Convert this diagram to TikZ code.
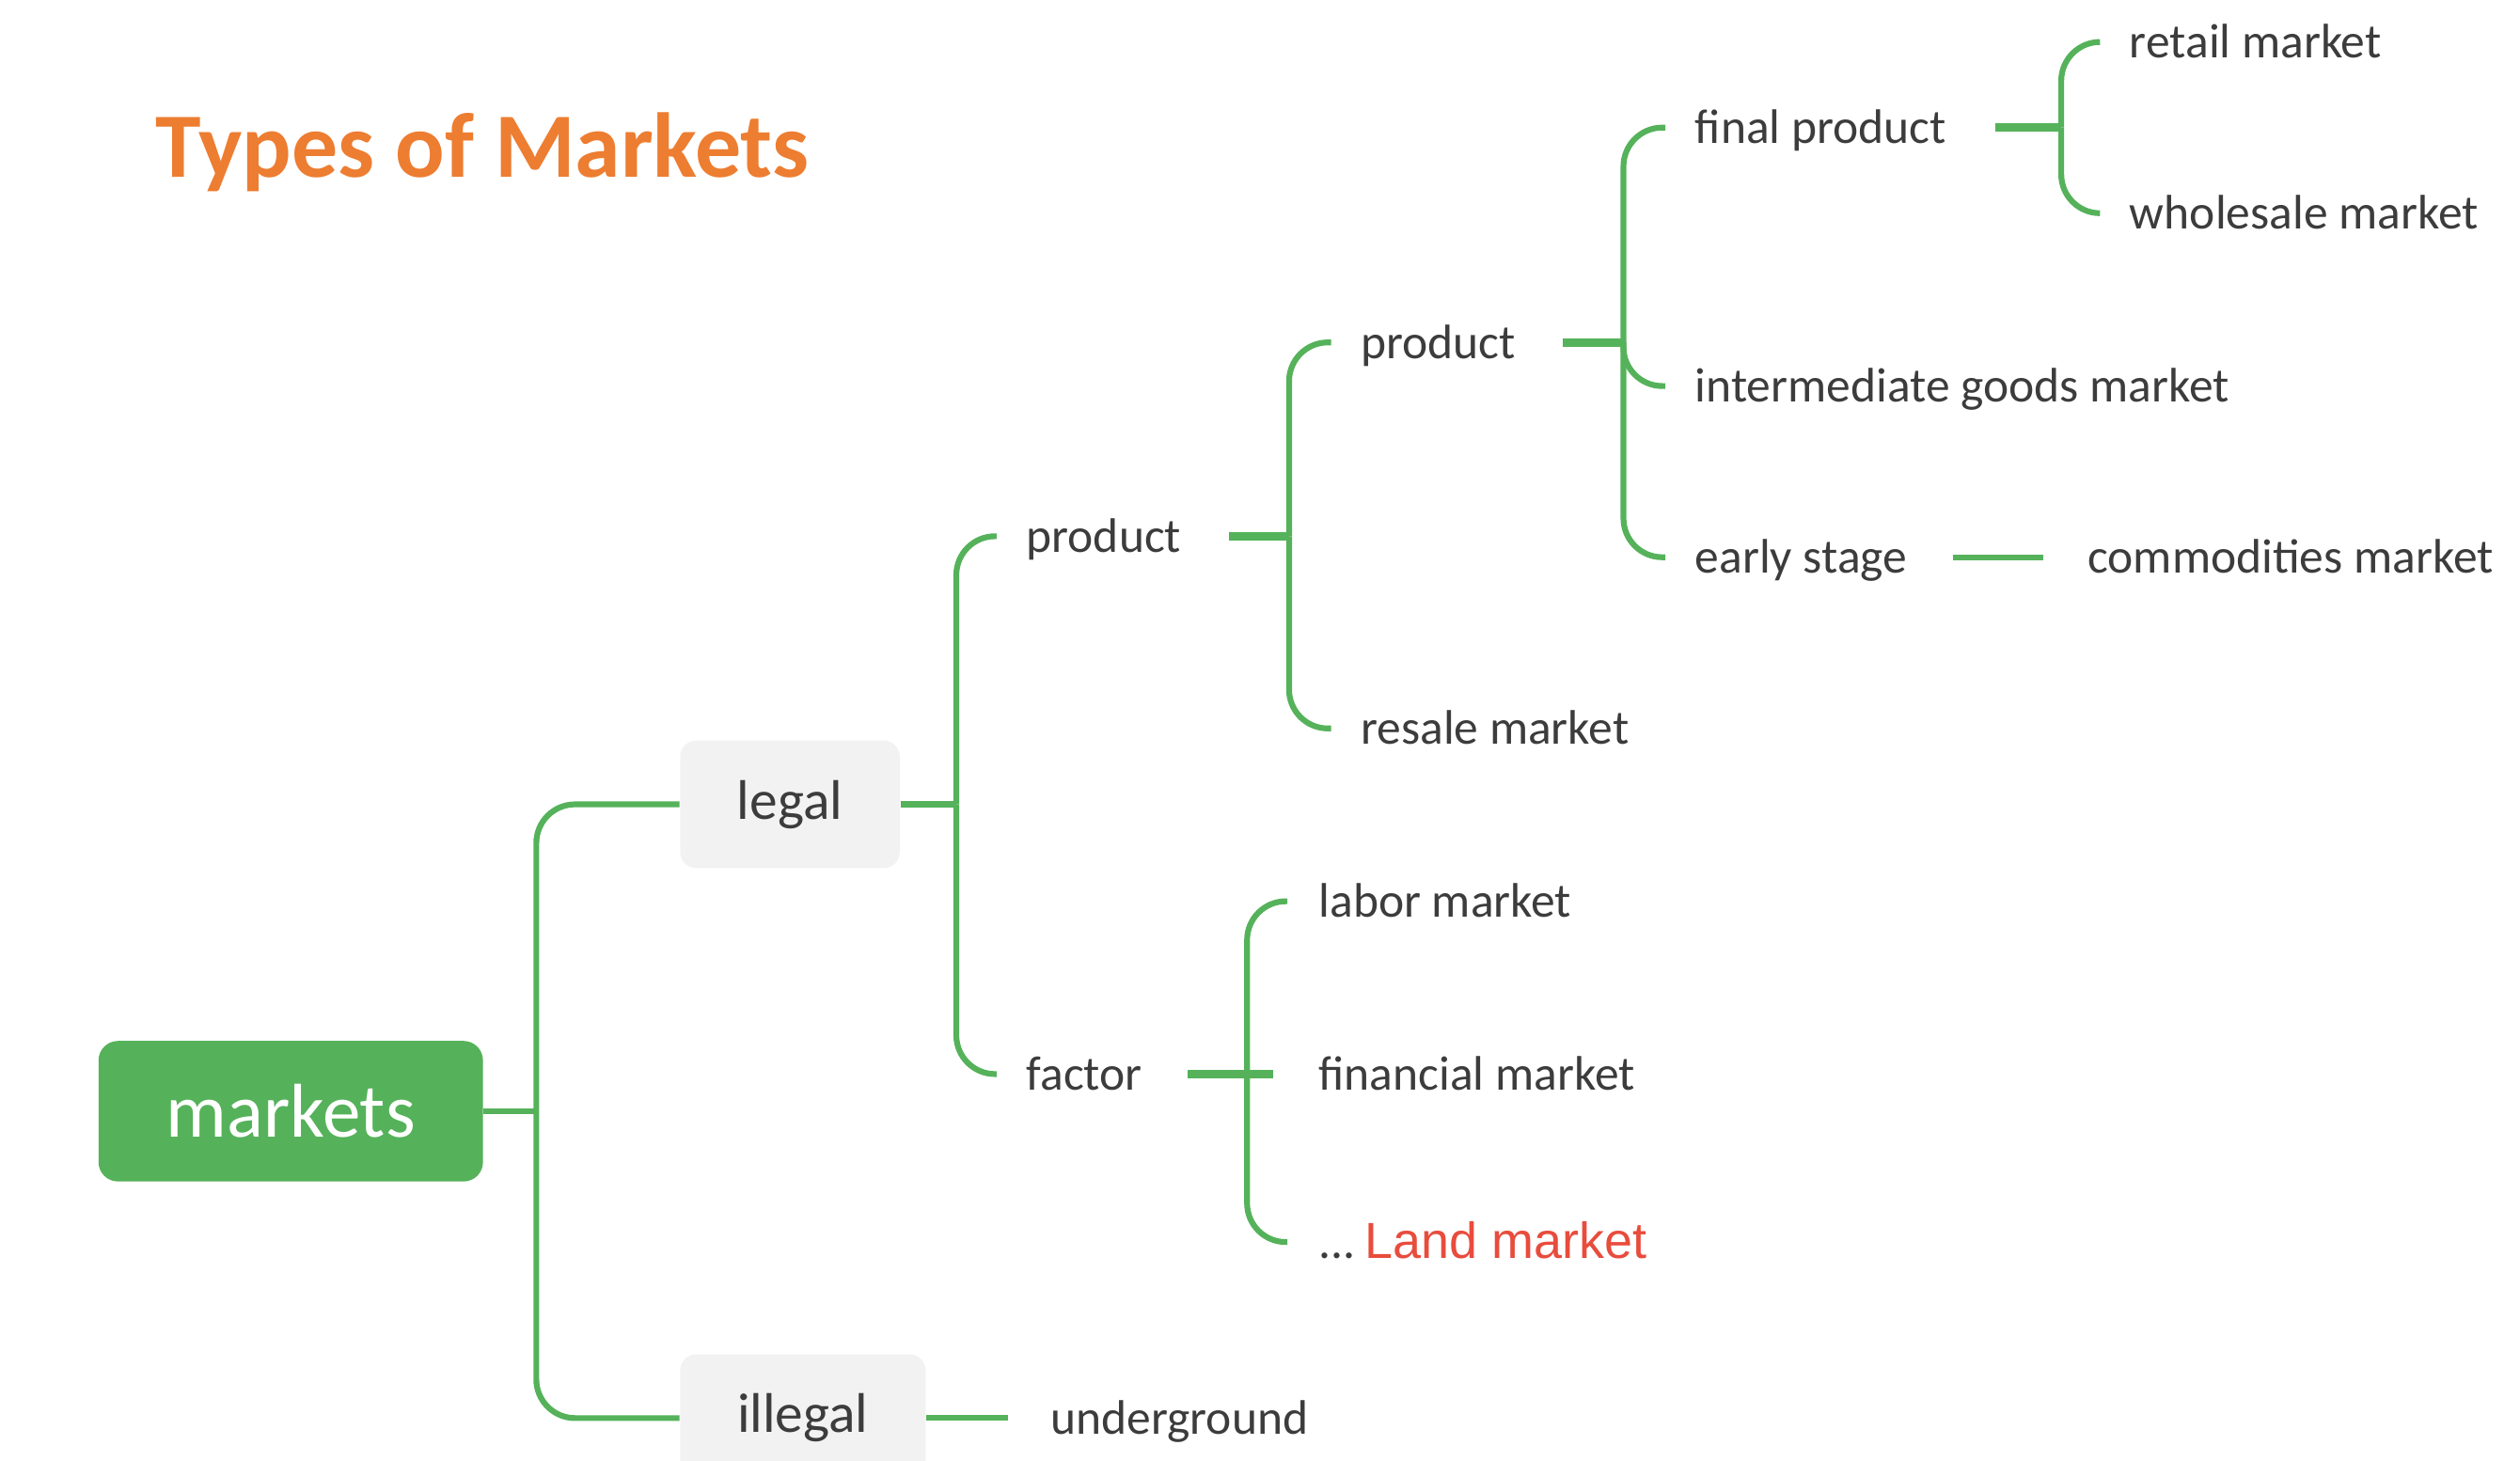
\documentclass[tikz,border=0pt]{standalone}
\usepackage{fontspec}
\setmainfont{Carlito}
\newfontfamily\arialfont{Liberation Sans}

\definecolor{mgreen}{RGB}{85,178,90}
\definecolor{mtext}{RGB}{60,60,60}
\definecolor{mbox}{RGB}{242,242,242}
\definecolor{morange}{RGB}{237,125,49}
\definecolor{mred}{RGB}{232,76,61}

\tikzset{
  lnk/.style={draw=mgreen, line width=1.8pt, rounded corners=12pt},
  stub/.style={draw=mgreen, line width=2.6pt},
  leaf/.style={anchor=west, inner xsep=0pt, inner ysep=0pt, text height=10pt, text depth=0pt,
    text=mtext, font=\fontsize{15}{18}\selectfont},
  gbox/.style={fill=mbox, rounded corners=5pt, inner sep=0pt, minimum height=39.5pt,
    text=mtext, font=\fontsize{17.3}{20}\selectfont},
}

\begin{document}
\begin{tikzpicture}[x=0.5pt, y=-0.5pt]
\useasboundingbox (0,0) rectangle (1560,904.5);
\clip (0,0) rectangle (1560,904.5);

\node[anchor=base west, inner sep=0pt, text=morange, font=\bfseries\fontsize{28.5}{34}\selectfont] (title) at (96,110) {Types of Markets};

% boxes
\node[fill=mgreen, rounded corners=6pt, inner sep=0pt, minimum width=119pt, minimum height=43.5pt,
  text=white, font=\fontsize{23.6}{27}\selectfont] (mk) at (180,688) {markets};
\node[gbox, minimum width=68pt] (lg) at (489,498) {legal};
\node[gbox, minimum width=76pt] (il) at (497,878) {illegal};

% text nodes
\node[leaf] (pr) at (635,332) {product};
\node[leaf] (fa) at (635,665) {factor};
\node[leaf] (pp) at (842,212) {product};
\node[leaf] (rs) at (842,451) {resale market};
\node[leaf] (fp) at (1049,79) {final product};
\node[leaf] (ig) at (1049,239) {intermediate goods market};
\node[leaf] (es) at (1049,345) {early stage};
\node[leaf] (rt) at (1318,26) {retail market};
\node[leaf] (ws) at (1318,132) {wholesale market};
\node[leaf] (cm) at (1292,345) {commodities market};
\node[leaf] (lb) at (816,558) {labor market};
\node[leaf] (fi) at (816,665) {financial market};
\node[leaf] (ld) at (816,769) {...\hspace{3pt}{\arialfont\color{mred}\fontsize{15.7}{19}\selectfont Land market}};
\node[leaf] (ug) at (650,878) {underground};

% junctions
\coordinate (j1) at (332,688);
\coordinate (j2) at (592,498);
\coordinate (j3) at (798,332);
\coordinate (j4) at (1005,212);
\coordinate (j5) at (1276,79);
\coordinate (j6) at (772,665);

\draw[lnk] (mk.east) -- (j1);
\draw[lnk] (j1) |- (lg.west);
\draw[lnk] (j1) |- (il.west);

\draw[lnk] (lg.east) -- (j2);
\draw[lnk] (j2) |- ([xshift=-9pt]pr.west);
\draw[lnk] (j2) |- ([xshift=-9pt]fa.west);

\draw[stub] ([xshift=14.5pt]pr.east) -- (j3);
\draw[lnk] (j3) |- ([xshift=-9pt]pp.west);
\draw[lnk] (j3) |- ([xshift=-9pt]rs.west);

\draw[stub] ([xshift=14.5pt]pp.east) -- (j4);
\draw[lnk] (j4) |- ([xshift=-9pt]fp.west);
\draw[lnk] (j4) |- ([xshift=-9pt]ig.west);
\draw[lnk] (j4) |- ([xshift=-9pt]es.west);

\draw[stub] ([xshift=15pt]fp.east) -- (j5);
\draw[lnk] (j5) |- ([xshift=-9pt]rt.west);
\draw[lnk] (j5) |- ([xshift=-9pt]ws.west);

\draw[lnk] ([xshift=14pt]es.east) -- ([xshift=-13.5pt]cm.west);

\draw[stub] ([xshift=14pt]fa.east) -- ([xshift=-14pt]fi.west);
\draw[lnk] (j6) |- ([xshift=-9.5pt]lb.west);
\draw[lnk] (j6) |- ([xshift=-9.5pt]ld.west);

\draw[lnk] (il.east) -- ([xshift=-13pt]ug.west);
\end{tikzpicture}
\end{document}
